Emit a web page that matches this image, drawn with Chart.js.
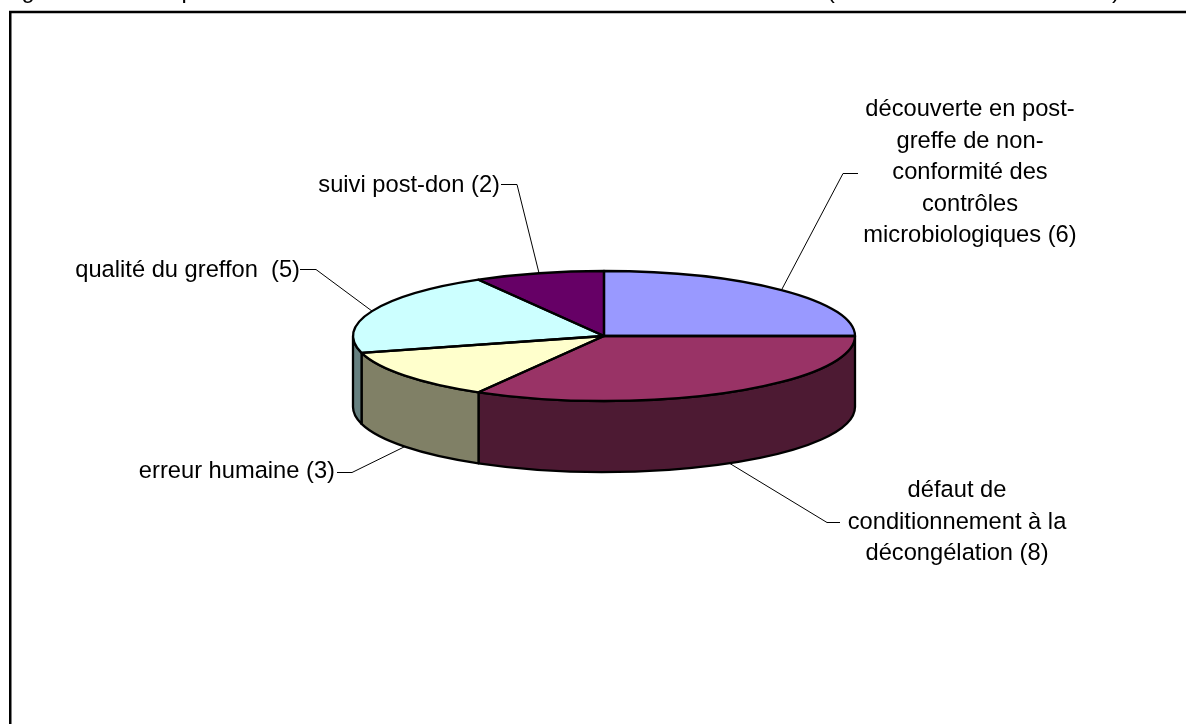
<!DOCTYPE html>
<html lang="fr">
<head>
<meta charset="utf-8">
<title>Camembert 3D</title>
<script src="https://cdn.jsdelivr.net/npm/chart.js@4"></script>
<style>
    html, body { margin: 0; padding: 0; background: #fff; overflow: hidden; }
    canvas { display: block; }
</style>
</head>
<body>
<canvas id="pieChart" width="1186" height="724"></canvas>
<script>
// data, clockwise from the top of the pie
const categoryLines = [
    ['découverte en post-', 'greffe de non-', 'conformité des', 'contrôles', 'microbiologiques'],
    ['défaut de', 'conditionnement à la', 'décongélation'],
    ['erreur humaine'],
    ['qualité du greffon '],
    ['suivi post-don']
];
const values = [6, 8, 3, 5, 2];
const sliceColors = ['#9999ff', '#993366', '#ffffcc', '#ccffff', '#660066'];
const sideColors = ['#4d4d80', '#4d1a33', '#808066', '#668080', '#330033'];

// the title sits above the crop, only its descenders are left
const titleFragments = ['g', 'p', '(', ')'];
const titleFragmentX = [28, 188, 831, 1116];

// label layout: text position, then the two free points of each leader line
const labelLayout = [
    { x: 970, y: 116, align: 'center', start: [858, 173], elbow: [843, 173] },
    { x: 957, y: 497, align: 'center', start: [840, 522], elbow: [827, 522] },
    { x: 335, y: 478, align: 'right', start: [337, 472], elbow: [352, 472] },
    { x: 300, y: 277, align: 'right', start: [300, 269], elbow: [316, 269] },
    { x: 500, y: 192, align: 'right', start: [501, 184], elbow: [517, 184] }
];

const FONT = '23.7px "Liberation Sans", Arial, sans-serif';
const LINE_HEIGHT = 31.5;
const PIE_CENTER_Y = 336;
const SQUASH = 65 / 251;
const DEPTH = 71;

function outlineSlice(ctx, arc, cy) {
    ctx.beginPath();
    ctx.moveTo(arc.x, cy);
    ctx.ellipse(arc.x, cy, arc.outerRadius, arc.outerRadius * SQUASH, 0, arc.startAngle, arc.endAngle);
    ctx.closePath();
    ctx.stroke();
}

const pie3d = {
    id: 'pie3d',
    beforeDatasetsDraw(chart) {
        const ctx = chart.ctx;
        const arcs = chart.getDatasetMeta(0).data;

        // page frame, runs off the crop on the right and at the bottom
        ctx.save();
        ctx.strokeStyle = '#000';
        ctx.lineWidth = 2.5;
        ctx.strokeRect(10.25, 12, 1300, 900);
        ctx.restore();

        // side wall of each slice, only the front half of the rim shows
        ctx.save();
        ctx.strokeStyle = '#000';
        ctx.lineWidth = 2.3;
        ctx.lineJoin = 'round';
        arcs.forEach((arc, i) => {
            const from = Math.max(arc.startAngle, 0);
            const to = Math.min(arc.endAngle, Math.PI);
            if (to <= from) return;
            const rx = arc.outerRadius;
            const ry = rx * SQUASH;
            ctx.beginPath();
            ctx.ellipse(arc.x, PIE_CENTER_Y, rx, ry, 0, from, to);
            ctx.ellipse(arc.x, PIE_CENTER_Y + DEPTH, rx, ry, 0, to, from, true);
            ctx.closePath();
            ctx.fillStyle = sideColors[i];
            ctx.fill();
            ctx.stroke();
        });
        ctx.restore();

        // squash the library's own arcs into the tilted top of the pie
        ctx.save();
        ctx.translate(0, PIE_CENTER_Y);
        ctx.scale(1, SQUASH);
        ctx.translate(0, -arcs[0].y);
    },
    afterDatasetsDraw(chart) {
        const ctx = chart.ctx;
        ctx.restore();

        ctx.save();
        ctx.strokeStyle = '#000';
        ctx.lineWidth = 2.3;
        ctx.lineJoin = 'round';
        chart.getDatasetMeta(0).data.forEach(arc => outlineSlice(ctx, arc, PIE_CENTER_Y));
        ctx.restore();
    },
    afterDraw(chart) {
        const ctx = chart.ctx;
        ctx.save();
        ctx.font = FONT;
        ctx.fillStyle = '#000';

        ctx.textAlign = 'center';
        titleFragments.forEach((t, i) => ctx.fillText(t, titleFragmentX[i], -2));

        chart.getDatasetMeta(0).data.forEach((arc, i) => {
            const layout = labelLayout[i];
            const lines = categoryLines[i].slice();
            lines[lines.length - 1] += ' (' + values[i] + ')';

            ctx.textAlign = layout.align;
            lines.forEach((line, n) => ctx.fillText(line, layout.x, layout.y + n * LINE_HEIGHT));

            // leader line ends on the rim at the middle of the slice
            const mid = (arc.startAngle + arc.endAngle) / 2;
            const rimX = arc.x + Math.cos(mid) * arc.outerRadius;
            let rimY = PIE_CENTER_Y + Math.sin(mid) * arc.outerRadius * SQUASH;
            if (Math.sin(mid) > 0) rimY += DEPTH;

            ctx.strokeStyle = '#000';
            ctx.lineWidth = 1;
            ctx.beginPath();
            ctx.moveTo(layout.start[0], layout.start[1] + 0.5);
            ctx.lineTo(layout.elbow[0], layout.elbow[1] + 0.5);
            ctx.lineTo(rimX, rimY);
            ctx.stroke();
        });
        ctx.restore();
    }
};

new Chart(document.getElementById('pieChart').getContext('2d'), {
    type: 'pie',
    data: {
        labels: categoryLines.map(lines => lines.join(' ')),
        datasets: [{
            data: values,
            backgroundColor: sliceColors,
            borderWidth: 0
        }]
    },
    options: {
        responsive: false,
        animation: false,
        layout: { padding: { left: 353, right: 331, top: 111, bottom: 111 } },
        plugins: {
            legend: { display: false },
            tooltip: { enabled: false }
        }
    },
    plugins: [pie3d]
});
</script>
</body>
</html>
